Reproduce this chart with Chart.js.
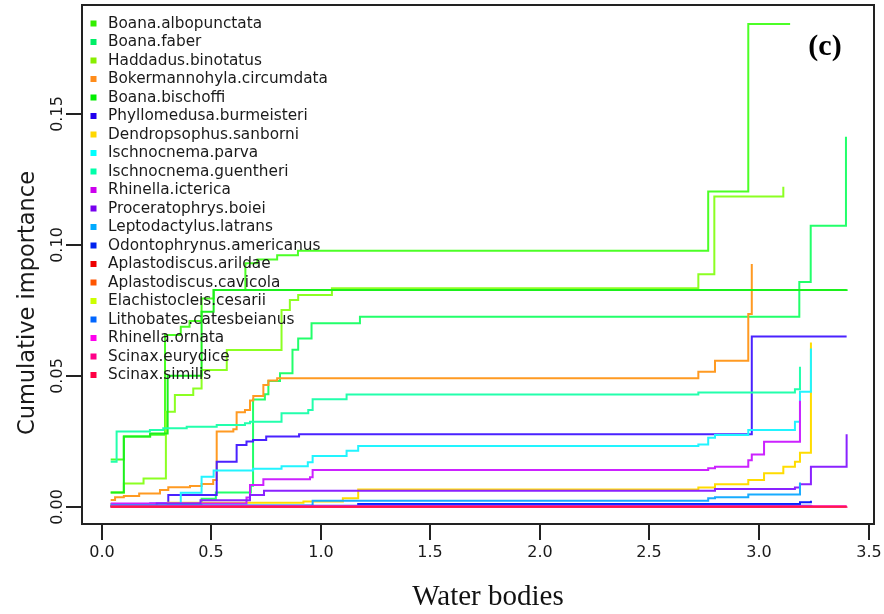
<!DOCTYPE html>
<html>
<head>
<meta charset="utf-8">
<script src="https://cdn.jsdelivr.net/npm/chart.js@4.4.0/dist/chart.umd.min.js"></script>
<style>
  html, body { margin: 0; padding: 0; background: #ffffff; }
  #wrap { width: 884px; height: 614px; }
</style>
</head>
<body>
<div id="wrap"><canvas id="c" width="884" height="614"></canvas></div>
<script>
// ---------------- DATA ----------------
const speciesNames = [
  "Boana.albopunctata", "Boana.faber", "Haddadus.binotatus", "Bokermannohyla.circumdata",
  "Boana.bischoffi", "Phyllomedusa.burmeisteri", "Dendropsophus.sanborni", "Ischnocnema.parva",
  "Ischnocnema.guentheri", "Rhinella.icterica", "Proceratophrys.boiei", "Leptodactylus.latrans",
  "Odontophrynus.americanus", "Aplastodiscus.arildae", "Aplastodiscus.cavicola", "Elachistocleis.cesarii",
  "Lithobates.catesbeianus", "Rhinella.ornata", "Scinax.eurydice", "Scinax.similis"
];

const albopunctataX = [0.04, 0.10, 0.22, 0.288, 0.36, 0.40, 0.455, 0.51, 0.655, 0.71, 0.80, 0.895, 2.768, 2.951, 3.142];
const albopunctataY = [0.0180, 0.0268, 0.0275, 0.0656, 0.0688, 0.0710, 0.0796, 0.0828, 0.0930, 0.0945, 0.0961, 0.0978, 0.1204, 0.1844, 0.1844];

const faberX = [0.04, 0.455, 0.52, 0.68, 0.69, 0.744, 0.76, 0.813, 0.87, 0.896, 0.957, 1.178, 3.184, 3.236, 3.397];
const faberY = [0.0010, 0.0030, 0.0054, 0.0080, 0.0410, 0.0430, 0.0480, 0.0510, 0.0600, 0.0643, 0.0701, 0.0726, 0.0859, 0.1074, 0.1414];

const haddadusX = [0.04, 0.10, 0.19, 0.292, 0.333, 0.417, 0.455, 0.57, 0.82, 0.858, 0.896, 1.05, 2.723, 2.796, 3.111];
const haddadusY = [0.0054, 0.0089, 0.0108, 0.0363, 0.0427, 0.0452, 0.0522, 0.0599, 0.0752, 0.0790, 0.0809, 0.0835, 0.0888, 0.1185, 0.1223];

const bokermannX = [0.04, 0.06, 0.10, 0.17, 0.265, 0.303, 0.402, 0.455, 0.508, 0.524, 0.600, 0.615, 0.653, 0.676, 0.691, 0.737, 0.760, 0.80, 2.723, 2.799, 2.951, 2.967];
const bokermannY = [0.0026, 0.0036, 0.0041, 0.0051, 0.0064, 0.0074, 0.0079, 0.0087, 0.0102, 0.0287, 0.0296, 0.0361, 0.0370, 0.0406, 0.0423, 0.0465, 0.0482, 0.0491, 0.0516, 0.0558, 0.0736, 0.0927];

const bischoffiX = [0.04, 0.10, 0.22, 0.30, 0.455, 0.51, 3.40];
const bischoffiY = [0.0054, 0.0268, 0.0280, 0.0500, 0.0745, 0.0828, 0.0831];

const phyllomedusaX = [0.04, 0.22, 0.303, 0.524, 0.615, 0.66, 0.69, 0.75, 0.90, 2.967, 3.40];
const phyllomedusaY = [0.0004, 0.0012, 0.0045, 0.0172, 0.0236, 0.0249, 0.0255, 0.0268, 0.0277, 0.0650, 0.0650];

const dendropsophusX = [0.04, 0.30, 0.92, 1.10, 1.17, 2.723, 2.799, 2.951, 3.023, 3.111, 3.164, 3.187, 3.237];
const dendropsophusY = [0.0010, 0.0015, 0.0020, 0.0032, 0.0066, 0.0073, 0.0086, 0.0102, 0.0128, 0.0153, 0.0172, 0.0206, 0.0627];

const parvaX = [0.04, 0.36, 0.455, 0.51, 0.69, 0.82, 0.94, 0.962, 1.117, 1.17, 2.723, 2.768, 2.799, 2.951, 3.164, 3.187, 3.237];
const parvaY = [0.0010, 0.0053, 0.0115, 0.0138, 0.0145, 0.0155, 0.0170, 0.0194, 0.0214, 0.0232, 0.0238, 0.0264, 0.0274, 0.0293, 0.0325, 0.0439, 0.0605];

const guentheriX = [0.04, 0.067, 0.219, 0.280, 0.387, 0.524, 0.653, 0.676, 0.820, 0.942, 0.962, 1.117, 2.723, 3.164, 3.187];
const guentheriY = [0.0172, 0.0287, 0.0293, 0.0300, 0.0306, 0.0312, 0.0319, 0.0325, 0.0357, 0.0370, 0.0411, 0.0429, 0.0436, 0.0449, 0.0535];

const ictericaX = [0.04, 0.66, 0.676, 0.737, 0.95, 0.962, 2.768, 2.799, 2.951, 2.967, 3.023, 3.187];
const ictericaY = [0.0012, 0.0035, 0.0083, 0.0105, 0.0113, 0.0140, 0.0147, 0.0153, 0.0178, 0.0200, 0.0248, 0.0405];

const proceratophrysX = [0.04, 0.25, 0.45, 0.676, 0.74, 2.799, 3.164, 3.187, 3.237, 3.400];
const proceratophrysY = [0.0005, 0.0012, 0.0025, 0.0045, 0.0061, 0.0068, 0.0073, 0.0086, 0.0153, 0.0277];

const leptodactylusX = [0.04, 0.962, 2.768, 2.799, 2.951, 3.187];
const leptodactylusY = [0.0005, 0.0023, 0.0032, 0.0036, 0.0047, 0.0093];

const odontophrynusX = [0.04, 1.17, 3.187, 3.237];
const odontophrynusY = [0.0003, 0.0010, 0.0017, 0.0023];

const arildaeX = [0.04, 1.17, 3.10];
const arildaeY = [0.0001, 0.0002, 0.0003];

const cavicolaX = [0.04, 0.50, 3.00];
const cavicolaY = [0.0001, 0.0002, 0.0003];

const elachistocleisX = [0.04, 1.05, 3.20];
const elachistocleisY = [0.0002, 0.0003, 0.0004];

const lithobatesX = [0.04, 0.30, 3.24];
const lithobatesY = [0.0002, 0.0004, 0.0006];

const ornataX = [0.04, 0.30, 3.40];
const ornataY = [0.0001, 0.0002, 0.0002];

const eurydiceX = [0.04, 3.40];
const eurydiceY = [0.0000, 0.0001];

const similisX = [0.04, 3.40];
const similisY = [0.0000, 0.0000];

const xTickValues = [0.0, 0.5, 1.0, 1.5, 2.0, 2.5, 3.0, 3.5];
const xTickLabels = ["0.0", "0.5", "1.0", "1.5", "2.0", "2.5", "3.0", "3.5"];
const yTickValues = [0.00, 0.05, 0.10, 0.15];
const yTickLabels = ["0.00", "0.05", "0.10", "0.15"];

const xAxisTitle = "Water bodies";
const yAxisTitle = "Cumulative importance";
const panelTag = "(c)";

// ---------------- STYLE ----------------
const seriesColors = [
  "#4cff26", "#22ff6a", "#8cff22", "#ff9a22", "#1cf01c", "#4a22ff", "#ffdc00", "#22f4ff",
  "#22ffac", "#cc22ff", "#8a22ff", "#18acff", "#0a22ff", "#ff1a1a", "#ff5a14", "#ccff14",
  "#1a6aff", "#ff1af0", "#ff1a88", "#ff1a4a"
];
const legendSquareColors = [
  "#33ee00", "#00ee66", "#88ee00", "#ff8c1a", "#00ee00", "#2200ee", "#ffd700", "#00ffff",
  "#00ffaa", "#cc00ee", "#7700ee", "#00aaff", "#0022ee", "#ee0000", "#ff5500", "#ccff00",
  "#0066ff", "#ff00ee", "#ff0088", "#ff0044"
];

const seriesX = [albopunctataX, faberX, haddadusX, bokermannX, bischoffiX, phyllomedusaX, dendropsophusX, parvaX,
  guentheriX, ictericaX, proceratophrysX, leptodactylusX, odontophrynusX, arildaeX, cavicolaX, elachistocleisX,
  lithobatesX, ornataX, eurydiceX, similisX];
const seriesY = [albopunctataY, faberY, haddadusY, bokermannY, bischoffiY, phyllomedusaY, dendropsophusY, parvaY,
  guentheriY, ictericaY, proceratophrysY, leptodactylusY, odontophrynusY, arildaeY, cavicolaY, elachistocleisY,
  lithobatesY, ornataY, eurydiceY, similisY];

const datasets = speciesNames.map((name, i) => ({
  label: name,
  data: seriesX[i].map((xv, j) => ({ x: xv, y: seriesY[i][j] })),
  borderColor: seriesColors[i],
  backgroundColor: legendSquareColors[i],
  borderWidth: 2,
  pointRadius: 0,
  stepped: 'before',
  fill: false,
  order: speciesNames.length - i
}));

const frame = {
  id: 'frame',
  afterDatasetsDraw(chart) {
    const { ctx } = chart;
    ctx.save();
    ctx.font = "15.3px 'DejaVu Sans'";
    ctx.textBaseline = 'middle';
    ctx.textAlign = 'left';
    chart.data.datasets.forEach((ds, i) => {
      const cy = 23.5 + i * 18.5;
      ctx.fillStyle = legendSquareColors[i];
      ctx.fillRect(90.5, cy - 3, 6, 6);
      ctx.fillStyle = '#1a1a1a';
      ctx.fillText(ds.label, 108, cy + 0.5);
    });
    ctx.restore();
  },
  afterDraw(chart) {
    const { ctx, chartArea: a, scales: { x, y } } = chart;
    ctx.save();
    ctx.strokeStyle = '#222';
    ctx.lineWidth = 2;
    ctx.strokeRect(a.left, a.top, a.right - a.left, a.bottom - a.top);

    ctx.fillStyle = '#1a1a1a';
    ctx.font = "16px 'DejaVu Sans'";
    ctx.textAlign = 'center';
    ctx.textBaseline = 'middle';
    xTickValues.forEach((v, i) => {
      const px = Math.round(x.getPixelForValue(v));
      ctx.beginPath();
      ctx.moveTo(px, a.bottom);
      ctx.lineTo(px, a.bottom + 16);
      ctx.stroke();
      ctx.fillText(xTickLabels[i], px, a.bottom + 29);
    });
    yTickValues.forEach((v, i) => {
      const py = Math.round(y.getPixelForValue(v));
      ctx.beginPath();
      ctx.moveTo(a.left, py);
      ctx.lineTo(a.left - 16, py);
      ctx.stroke();
      ctx.save();
      ctx.translate(58, py);
      ctx.rotate(-Math.PI / 2);
      ctx.fillText(yTickLabels[i], 0, 0);
      ctx.restore();
    });
    ctx.font = "22.5px 'DejaVu Sans'";
    ctx.save();
    ctx.translate(28, 303);
    ctx.rotate(-Math.PI / 2);
    ctx.fillText(yAxisTitle, 0, 0);
    ctx.restore();
    ctx.font = "29px 'Liberation Serif'";
    ctx.fillStyle = '#111';
    ctx.fillText(xAxisTitle, 488, 597);
    ctx.font = "bold 30px 'Liberation Serif'";
    ctx.fillStyle = '#000';
    ctx.fillText(panelTag, 825, 47);
    ctx.restore();
  }
};

new Chart(document.getElementById('c'), {
  type: 'line',
  data: { datasets },
  options: {
    responsive: false,
    animation: false,
    devicePixelRatio: 1,
    layout: { padding: { left: 82, right: 10, top: 5, bottom: 90 } },
    plugins: { legend: { display: false }, tooltip: { enabled: false } },
    scales: {
      x: { type: 'linear', min: -0.091, max: 3.525, display: false },
      y: { type: 'linear', min: -0.0066, max: 0.1917, display: false }
    }
  },
  plugins: [frame]
});
</script>
</body>
</html>
